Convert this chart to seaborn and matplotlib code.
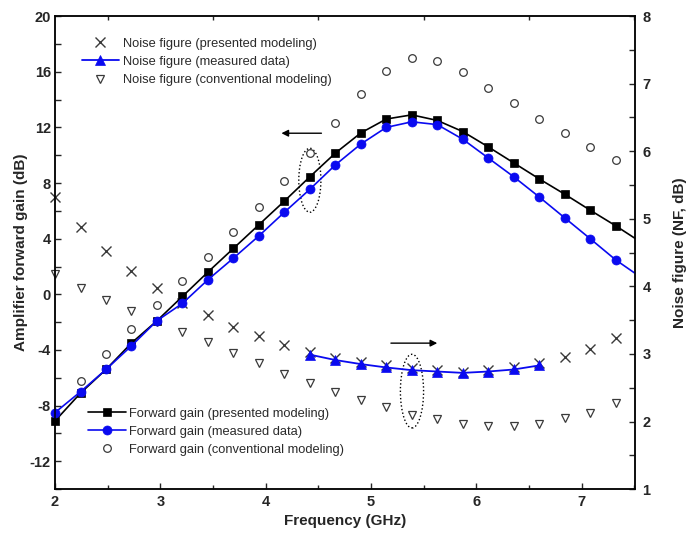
import matplotlib
matplotlib.use("Agg")
import matplotlib.pyplot as plt
import seaborn as sns
from matplotlib.patches import Ellipse
from matplotlib.ticker import FixedLocator

# ---------------- data ----------------
freq = [2.000, 2.242, 2.484, 2.726, 2.968, 3.210, 3.452, 3.694, 3.936, 4.178,
        4.420, 4.662, 4.904, 5.146, 5.388, 5.630, 5.872, 6.114, 6.356, 6.598,
        6.840, 7.082, 7.324]
freq_line = freq + [7.505]          # line continues to the right frame

gain_presented = [-9.1, -7.1, -5.4, -3.5, -1.9, -0.15, 1.6, 3.3, 5.0, 6.7,
                  8.45, 10.15, 11.6, 12.6, 12.9, 12.5, 11.7, 10.6, 9.45, 8.3,
                  7.2, 6.05, 4.93, 4.04]
gain_measured = [-8.5, -7.0, -5.4, -3.7, -1.9, -0.65, 1.05, 2.6, 4.2, 5.9,
                 7.55, 9.3, 10.8, 12.0, 12.4, 12.2, 11.15, 9.8, 8.45, 7.0,
                 5.5, 4.0, 2.48, 1.53]
freq_gain_conv = freq[1:]
gain_conventional = [-6.2, -4.3, -2.5, -0.75, 0.93, 2.65, 4.45, 6.27, 8.18,
                     10.19, 12.3, 14.38, 16.07, 16.96, 16.8, 15.96, 14.81,
                     13.73, 12.6, 11.62, 10.62, 9.66]

nf_presented = [5.33, 4.88, 4.52, 4.23, 3.98, 3.76, 3.57, 3.40, 3.27, 3.13,
                3.03, 2.94, 2.88, 2.83, 2.79, 2.76, 2.74, 2.76, 2.80, 2.86,
                2.95, 3.07, 3.23]
freq_nf_meas = freq[10:20]
nf_measured = [2.99, 2.91, 2.85, 2.80, 2.76, 2.74, 2.72, 2.74, 2.77, 2.83]
nf_conventional = [4.18, 3.97, 3.80, 3.64, 3.48, 3.32, 3.18, 3.02, 2.86, 2.71,
                   2.57, 2.44, 2.32, 2.21, 2.10, 2.03, 1.96, 1.94, 1.94, 1.97,
                   2.05, 2.13, 2.27]

x_ticks = [2, 3, 4, 5, 6, 7]
gain_ticks = [-12, -8, -4, 0, 4, 8, 12, 16, 20]
nf_ticks = [1, 2, 3, 4, 5, 6, 7, 8]

labels_gain = ["Forward gain (presented modeling)",
               "Forward gain (measured data)",
               "Forward gain (conventional modeling)"]
labels_nf = ["Noise figure (presented modeling)",
             "Noise figure (measured data)",
             "Noise figure (conventional modeling)"]

# ---------------- style ----------------
sns.set_style("ticks")
plt.rcParams["font.family"] = ["Liberation Sans", "DejaVu Sans"]
plt.rcParams["axes.linewidth"] = 1.1

fig = plt.figure(figsize=(6.88, 5.36), dpi=100)
ax = fig.add_axes([0.080, 0.0875, 0.8425, 0.8825])
ax2 = ax.twinx()
ax.set_zorder(2)
ax2.set_zorder(1)
ax.patch.set_visible(False)

BLUE = "#0a0af0"
GREY = "#3a3a3a"
marker_idx = list(range(len(freq)))

# ---------------- noise figure (right axis) ----------------
sns.lineplot(x=freq, y=nf_presented, ax=ax2, linestyle="none", marker="x",
             markersize=7, markeredgewidth=1.0, markeredgecolor=GREY,
             color=GREY, label=labels_nf[0], legend=False, clip_on=False)
sns.lineplot(x=freq_nf_meas, y=nf_measured, ax=ax2, color=BLUE, linewidth=1.3,
             marker="^", markersize=7.5, markeredgewidth=0.5,
             markeredgecolor=BLUE, label=labels_nf[1], legend=False)
sns.lineplot(x=freq, y=nf_conventional, ax=ax2, linestyle="none", marker="v",
             markersize=6, markerfacecolor="none", markeredgewidth=0.9,
             markeredgecolor=GREY, color=GREY, label=labels_nf[2], legend=False,
             clip_on=False)

# ---------------- forward gain (left axis) ----------------
sns.lineplot(x=freq_line, y=gain_presented, ax=ax, color="black", linewidth=1.2,
             marker="s", markersize=6, markeredgewidth=0.5,
             markeredgecolor="black", markevery=marker_idx,
             label=labels_gain[0], legend=False, clip_on=False)
sns.lineplot(x=freq_line, y=gain_measured, ax=ax, color=BLUE, linewidth=1.2,
             marker="o", markersize=6.5, markeredgewidth=0.5, markeredgecolor=BLUE,
             markevery=marker_idx, label=labels_gain[1], legend=False,
             clip_on=False)
sns.lineplot(x=freq_gain_conv, y=gain_conventional, ax=ax, linestyle="none",
             marker="o", markersize=5.5, markerfacecolor="none",
             markeredgewidth=0.9, markeredgecolor=GREY, color=GREY,
             label=labels_gain[2], legend=False)

# ---------------- axes ----------------
ax.set_xlim(2, 7.505)
ax.set_ylim(-14, 20)
ax2.set_ylim(1, 8)

ax.set_xticks(x_ticks)
ax.set_xticklabels([str(v) for v in x_ticks], fontweight="bold")
ax.xaxis.set_minor_locator(FixedLocator([2.5, 3.5, 4.5, 5.5, 6.5, 7.5]))
ax.set_yticks(gain_ticks)
ax.set_yticklabels([str(v) for v in gain_ticks], fontweight="bold")
ax.yaxis.set_minor_locator(FixedLocator(list(range(-14, 21, 2))))
ax2.set_yticks(nf_ticks)
ax2.set_yticklabels([str(v) for v in nf_ticks], fontweight="bold")
ax2.yaxis.set_minor_locator(FixedLocator([1.5, 2.5, 3.5, 4.5, 5.5, 6.5, 7.5]))

ax.tick_params(axis="x", which="major", direction="in", length=4.5, width=1,
               top=False, bottom=True, labelsize=10.5, pad=4)
ax.tick_params(axis="x", which="minor", direction="in", length=3, width=1,
               top=True, bottom=True)
ax.tick_params(axis="y", which="both", direction="in", length=4, width=1,
               left=True, right=False, labelsize=10.5, pad=3)
ax2.tick_params(axis="y", which="both", direction="in", length=4, width=1,
                labelsize=10.5, pad=5.5)

ax.set_xlabel("Frequency (GHz)", fontsize=11, fontweight="bold", labelpad=4)
ax.set_ylabel("Amplifier forward gain (dB)", fontsize=11, fontweight="bold",
              labelpad=1)
ax2.set_ylabel("Noise figure (NF, dB)", fontsize=11, fontweight="bold",
               labelpad=16)

for sp in ax.spines.values():
    sp.set_color("black")
    sp.set_linewidth(1.1)

# ---------------- annotations ----------------
ax.add_patch(Ellipse((4.42, 8.2), 0.21, 4.6, fill=False, linestyle=":",
                     linewidth=1.0, edgecolor="black"))
ax2.add_patch(Ellipse((5.39, 2.45), 0.22, 1.09, fill=False, linestyle=":",
                      linewidth=1.0, edgecolor="black"))
ax.annotate("", xy=(4.15, 11.58), xytext=(4.53, 11.58),
            arrowprops=dict(arrowstyle="-|>", color="black", lw=1.0,
                            mutation_scale=10, shrinkA=0, shrinkB=0))
ax2.annotate("", xy=(5.63, 3.16), xytext=(5.19, 3.16),
             arrowprops=dict(arrowstyle="-|>", color="black", lw=1.0,
                             mutation_scale=10, shrinkA=0, shrinkB=0))

# ---------------- legends ----------------
nf_handles = ax2.get_lines()[:3]
gain_handles = [l for l in ax.get_lines() if l.get_label() in labels_gain]
leg_kw = dict(loc="upper left", frameon=False, fontsize=9.3,
              handlelength=2.9, handletextpad=0.3, labelspacing=0.47,
              borderpad=0, borderaxespad=0, numpoints=1)
leg1 = ax.legend(nf_handles, labels_nf, bbox_to_anchor=(0.046, 0.954), **leg_kw)
for t in leg1.get_texts():
    t.set_color("#2a2a2a")
ax.add_artist(leg1)
leg2 = ax.legend(gain_handles, labels_gain, bbox_to_anchor=(0.057, 0.172),
                 **leg_kw)
for t in leg2.get_texts():
    t.set_color("#2a2a2a")

fig.savefig("out.png", dpi=100)
